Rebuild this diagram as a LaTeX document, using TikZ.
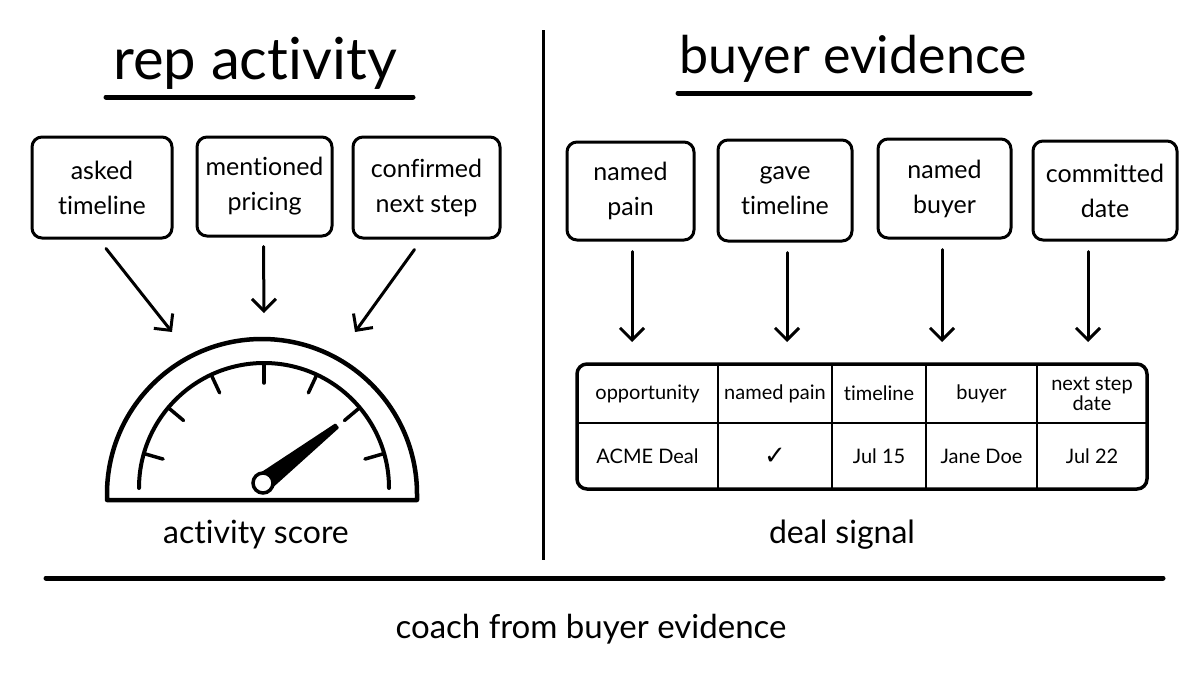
\documentclass[tikz,border=0pt]{standalone}
\usepackage{fontspec}
\setmainfont{Lato}[Ligatures={NoCommon,NoContextual},Contextuals={NoAlternate}]
\newfontfamily\symfont{DejaVu Sans}
\usetikzlibrary{arrows.meta,calc}
\tikzset{
  card/.style={draw, line width=3pt, rounded corners=10pt, align=center,
    font=\fontsize{25}{35}\selectfont, inner sep=0pt},
  arr/.style={line width=3pt, line cap=round,
    -{Straight Barb[length=12pt,width=24pt,line width=3pt]}},
  title/.style={anchor=base, font=\fontsize{56}{56}\selectfont},
  caption/.style={anchor=base, font=\fontsize{32}{32}\selectfont},
  cell/.style={font=\fontsize{20}{20}\selectfont, align=center, inner sep=0pt},
  rule/.style={line width=5pt, line cap=round},
}
\begin{document}
\begin{tikzpicture}[x=1pt,y=-1pt]
\useasboundingbox[fill=white] (0,0) rectangle (1200,675);

% titles
\node[title, font=\fontsize{58}{58}\selectfont] (tl) at (255,79) {rep activity};
\node[title, font=\fontsize{52}{52}\selectfont] (tr) at (853,73) {buyer evidence};
\draw[rule] (106,97) -- (413,97);
\draw[rule] (678,93) -- (1030,93);

% dividers
\draw[line width=3pt] (543,30) -- (543,560);
\draw[rule] (46,578) -- (1163,578);

% left cards
\node[card, minimum width=140pt, minimum height=101pt] (b1) at (102,187.5) {asked\\timeline};
\node[card, minimum width=135pt, minimum height=99pt] (b2) at (264.5,186.5) {mentioned\\pricing};
\node[card, minimum width=147pt, minimum height=101pt] (b3) at (426.5,187.5) {confirmed\\next step};

% right cards
\node[card, minimum width=127pt, minimum height=98pt] (c1) at (630.5,191) {named\\pain};
\node[card, minimum width=134pt, minimum height=101pt] (c2) at (785,190.5) {gave\\timeline};
\node[card, minimum width=133pt, minimum height=99pt] (c3) at (944.5,188.5) {named\\buyer};
\node[card, minimum width=144pt, minimum height=99pt] (c4) at (1105,190.5) {committed\\date};

% gauge
\draw[line width=4.5pt, line join=round] (107,500) -- (107,494) arc(180:360:155) -- (417,500) -- cycle;
\draw[line width=4pt, line cap=round] (139,488) arc(180:360:125);
\foreach \a in {16,40,65,90,115,140,164}
  \draw[line width=3.5pt, line cap=round] ($(264,488)+(-\a:124)$) -- ($(264,488)+(-\a:105)$);
\fill[rotate around={37.7:(263,483)}, line join=round, draw, line width=2pt]
  (263,474) -- (356,481) -- (356,485) -- (263,492) -- cycle;
\draw[line width=3.5pt, fill=white] (263,483) circle (10);
\node[caption] (as) at (256,543) {activity score};

% left arrows
\coordinate (g1) at (172,332);
\coordinate (g2) at (264,313);
\coordinate (g3) at (355,332);
\draw[arr] ($(b1.south)+(4,9)$) -- (g1);
\draw[arr] ($(b2.south)+(-1,9)$) -- (g2);
\draw[arr] ($(b3.south)+(-12,10)$) -- (g3);

% table
\node[draw, line width=3.5pt, rounded corners=10pt, minimum width=570pt,
  minimum height=125pt, inner sep=0pt] (tbl) at (862,426.5) {};
\draw[line width=2.5pt] (577,423) -- (1147,423);
\foreach \x in {718,832,926,1037}
  \draw[line width=2.5pt] (\x,364) -- (\x,489);
\node[cell] (h1) at (647.5,393.5) {opportunity};
\node[cell] (h2) at (775,393.5) {named pain};
\node[cell] (h3) at (879,393.5) {timeline};
\node[cell] (h4) at (981.5,393.5) {buyer};
\node[cell] (h5) at (1092,393.5) {next step\\date};
\node[cell] (d1) at (647.5,456) {ACME Deal};
\node[cell, font=\symfont\fontsize{26}{26}\selectfont] (d2) at (775,456) {✓};
\node[cell] (d3) at (879,456) {Jul 15};
\node[cell] (d4) at (981.5,456) {Jane Doe};
\node[cell] (d5) at (1092,456) {Jul 22};

% right arrows
\coordinate (t1) at (632,342);
\coordinate (t2) at (787,342);
\coordinate (t3) at (942,342);
\coordinate (t4) at (1088,342);
\draw[arr] ($(c1.south)+(1.5,10)$) -- (t1);
\draw[arr] ($(c2.south)+(2,10)$) -- (t2);
\draw[arr] ($(c3.south)+(-2.5,10)$) -- (t3);
\draw[arr] ($(c4.south)+(-17,10)$) -- (t4);

\node[caption] (ds) at (842,543) {deal signal};
\node[caption, font=\fontsize{33}{33}\selectfont] (cb) at (591,638) {coach from buyer evidence};
\end{tikzpicture}
\end{document}
